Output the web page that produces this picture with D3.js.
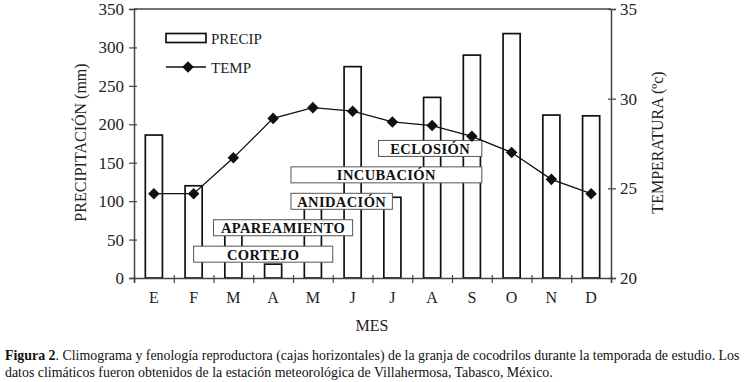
<!DOCTYPE html>
<html>
<head>
<meta charset="utf-8">
<script src="https://cdn.jsdelivr.net/npm/d3@7"></script>
<style>
  body { margin: 0; background: #fff; }
  svg { display: block; }
  svg text { font-family: "Liberation Serif", "Times New Roman", serif; }
</style>
</head>
<body>
<svg id="chart" width="745" height="382"></svg>
<script>
// climograma + fenologia
const months = ['E', 'F', 'M', 'A', 'M', 'J', 'J', 'A', 'S', 'O', 'N', 'D'];
const precip = [186, 120, 60, 18, 100, 275, 105, 235, 290, 318, 212, 211];
const temp = [24.7, 24.7, 26.7, 28.9, 29.5, 29.3, 28.7, 28.5, 27.9, 27.0, 25.5, 24.7];
const precipTicks = [0, 50, 100, 150, 200, 250, 300, 350];
const tempTicks = [20, 25, 30, 35];
// phases: start / end in months (0 = start of enero)
const phaseNames = ['CORTEJO', 'APAREAMIENTO', 'ANIDACIÓN', 'INCUBACIÓN', 'ECLOSIÓN'];
const phaseStart = [1.5, 2.0, 3.95, 3.95, 6.15];
const phaseEnd = [5.0, 5.5, 6.5, 8.75, 8.75];

const svg = d3.select('#chart');
const pLeft = 134, pRight = 611, pTop = 9, pBottom = 278;

const x = d3.scaleBand().domain(d3.range(12)).range([pLeft, pRight]).padding(0);
const xm = d3.scaleLinear().domain([0, 12]).range([pLeft, pRight]);
const yP = d3.scaleLinear().domain([0, 350]).range([pBottom, pTop]);
const yT = d3.scaleLinear().domain([20, 35]).range([pBottom, pTop]);

const axisColor = '#444';
const barW = x.bandwidth() * 0.43;

// bars
svg.append('g').selectAll('rect')
    .data(precip)
    .enter().append('rect')
    .attr('x', function(d, i) { return x(i) + (x.bandwidth() - barW) / 2; })
    .attr('y', function(d) { return yP(d); })
    .attr('width', barW)
    .attr('height', function(d) { return yP(0) - yP(d); })
    .attr('fill', '#fff')
    .attr('stroke', '#111')
    .attr('stroke-width', 1.7);

// phase boxes
const boxH = 16;
const phases = phaseNames.map(function(n, i) {
    return {name: n, s: phaseStart[i], e: phaseEnd[i], row: i};
});
const pg = svg.append('g').selectAll('g')
    .data(phases)
    .enter().append('g');
pg.append('rect')
    .attr('x', function(d) { return xm(d.s); })
    .attr('y', function(d) { return yP(31 + 34.4 * d.row) - boxH / 2; })
    .attr('width', function(d) { return xm(d.e) - xm(d.s); })
    .attr('height', boxH)
    .attr('fill', '#fff')
    .attr('stroke', '#555')
    .attr('stroke-width', 1);
pg.append('text')
    .attr('x', function(d) { return (xm(d.s) + xm(d.e)) / 2; })
    .attr('y', function(d) { return yP(31 + 34.4 * d.row) + 5.5; })
    .attr('text-anchor', 'middle')
    .style('font-size', '14.5px')
    .style('font-weight', 'bold')
    .style('letter-spacing', '0.4px')
    .attr('fill', '#111')
    .text(function(d) { return d.name; });

// temperature line
const line = d3.line()
    .x(function(d, i) { return x(i) + x.bandwidth() / 2; })
    .y(function(d) { return yT(d); });
svg.append('path')
    .datum(temp)
    .attr('d', line)
    .attr('fill', 'none')
    .attr('stroke', '#111')
    .attr('stroke-width', 1.3);
const diamond = d3.symbol().type(d3.symbolDiamond2).size(85);
svg.append('g').selectAll('path')
    .data(temp)
    .enter().append('path')
    .attr('d', diamond)
    .attr('transform', function(d, i) {
        return 'translate(' + (x(i) + x.bandwidth() / 2) + ',' + yT(d) + ')';
    })
    .attr('fill', '#111');

// frame and axes
svg.append('line')
    .attr('x1', pLeft).attr('x2', pRight).attr('y1', pTop).attr('y2', pTop)
    .attr('stroke', axisColor).attr('stroke-width', 1.5);

const leftAxis = svg.append('g')
    .attr('transform', 'translate(' + pLeft + ',0)')
    .call(d3.axisLeft(yP).tickValues(precipTicks).tickSize(5).tickPadding(5));
const rightAxis = svg.append('g')
    .attr('transform', 'translate(' + pRight + ',0)')
    .call(d3.axisRight(yT).tickValues(tempTicks).tickSize(5).tickPadding(4));
const xAxis = svg.append('g')
    .attr('transform', 'translate(0,' + pBottom + ')')
    .call(d3.axisBottom(xm).tickValues(d3.range(13)).tickSize(5).tickFormat(''));

[leftAxis, rightAxis, xAxis].forEach(function(a) {
    a.attr('font-family', null).attr('font-size', null);
    a.select('.domain').attr('stroke', axisColor).attr('stroke-width', 1.5);
    a.selectAll('.tick line').attr('stroke', axisColor).attr('stroke-width', 1.2);
    a.selectAll('text')
        .style('font-size', '17px')
        .attr('fill', '#222');
});
// ticks cross the axis lines
leftAxis.selectAll('.tick line').attr('x2', -5).attr('x1', 3);
rightAxis.selectAll('.tick line').attr('x2', 5).attr('x1', -3);
xAxis.selectAll('.tick line').attr('y1', -3).attr('y2', 5);

// month labels
svg.append('g').selectAll('text')
    .data(months)
    .enter().append('text')
    .attr('x', function(d, i) { return x(i) + x.bandwidth() / 2; })
    .attr('y', 303)
    .attr('text-anchor', 'middle')
    .style('font-size', '16px')
    .attr('fill', '#222')
    .text(function(d) { return d; });

svg.append('text')
    .attr('x', 372).attr('y', 331)
    .attr('text-anchor', 'middle')
    .style('font-size', '16px')
    .attr('fill', '#222')
    .text('MES');

svg.append('text')
    .attr('transform', 'translate(86,142.5) rotate(-90)')
    .attr('text-anchor', 'middle')
    .style('font-size', '16px')
    .attr('fill', '#222')
    .text('PRECIPITACIÓN (mm)');

svg.append('text')
    .attr('transform', 'translate(663,142.5) rotate(-90)')
    .attr('text-anchor', 'middle')
    .style('font-size', '16px')
    .attr('fill', '#222')
    .text('TEMPERATURA (ºc)');

// legend
svg.append('rect')
    .attr('x', 166).attr('y', 33.5).attr('width', 40).attr('height', 9)
    .attr('fill', '#fff').attr('stroke', '#111').attr('stroke-width', 1.7);
svg.append('text')
    .attr('x', 211).attr('y', 44)
    .style('font-size', '15px').attr('fill', '#222')
    .text('PRECIP');
svg.append('line')
    .attr('x1', 166).attr('x2', 206).attr('y1', 67).attr('y2', 67)
    .attr('stroke', '#111').attr('stroke-width', 1.3);
svg.append('path')
    .attr('d', diamond)
    .attr('transform', 'translate(188,67)')
    .attr('fill', '#111');
svg.append('text')
    .attr('x', 211).attr('y', 73)
    .style('font-size', '15px').attr('fill', '#222')
    .text('TEMP');

// caption
const cap = svg.append('g').attr('fill', '#111');
const l1 = cap.append('text').attr('x', 5).attr('y', 360).style('font-size', '13.9px');
l1.append('tspan').style('font-weight', 'bold').text('Figura 2');
l1.append('tspan').text('. Climograma y fenología reproductora (cajas horizontales) de la granja de cocodrilos durante la temporada de estudio. Los');
cap.append('text').attr('x', 5).attr('y', 377).style('font-size', '13.9px')
    .text('datos climáticos fueron obtenidos de la estación meteorológica de Villahermosa, Tabasco, México.');
</script>
</body>
</html>
